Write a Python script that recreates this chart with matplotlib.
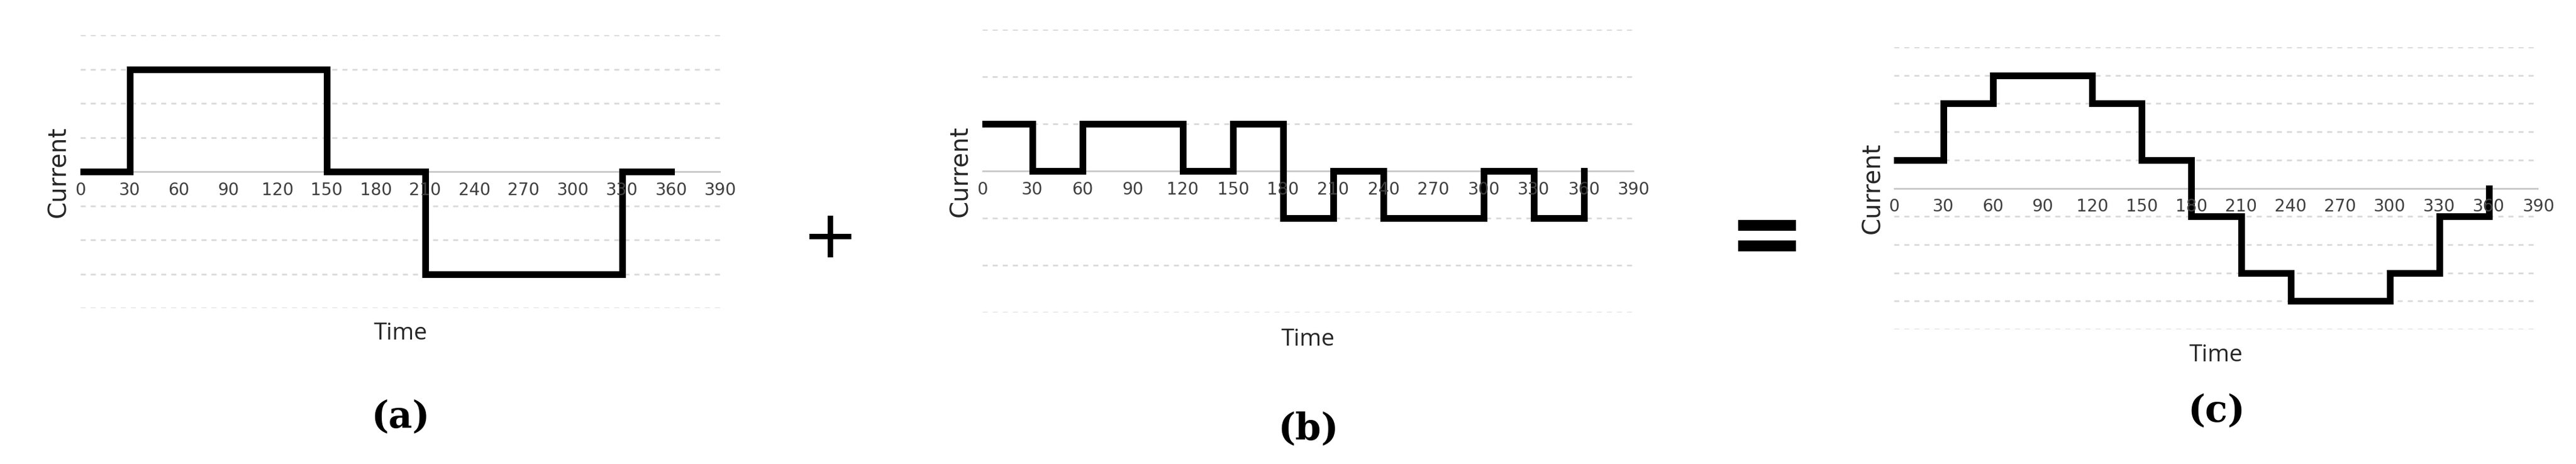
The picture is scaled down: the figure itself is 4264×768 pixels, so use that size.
import matplotlib
matplotlib.use('Agg')
import matplotlib.pyplot as plt

W, H = 4264, 768

# step boundaries (time) and level in each step
edges = [0, 30, 60, 90, 120, 150, 180, 210, 240, 270, 300, 330, 360]
levels_a = [0, 3, 3, 3, 3, 0, 0, -3, -3, -3, -3, 0]
levels_b = [1, 0, 1, 1, 0, 1, -1, 0, -1, -1, 0, -1]
levels_c = [1, 3, 4, 4, 3, 1, -1, -3, -4, -4, -3, -1]
tick_values = list(range(0, 391, 30))
panel_labels = ['(a)', '(b)', '(c)']

# pixel boxes: left, right, top, bottom ; y-range ; label positions
panels = [
    dict(box=(133, 1193, 58, 510), ylim=4, levels=levels_a, end=0, ylab_x=97, time_y=552, lab_y=690),
    dict(box=(1626, 2705, 49, 517), ylim=3, levels=levels_b, end=0, ylab_x=1590, time_y=562, lab_y=710),
    dict(box=(3135, 4202, 78, 545), ylim=5, levels=levels_c, end=0, ylab_x=3100, time_y=588, lab_y=680),
]

tick_font = ['Liberation Sans Narrow', 'DejaVu Sans']

fig = plt.figure(figsize=(W / 100, H / 100), dpi=100)
for p, lab in zip(panels, panel_labels):
    l, r, t, b = p['box']
    ax = fig.add_axes([l / W, 1 - b / H, (r - l) / W, (b - t) / H])
    n = p['ylim']
    for yv in range(-n, n + 1):
        if yv != 0:
            ax.axhline(yv, color='#d9d9d9', lw=2, ls=(0, (3, 3)), zorder=0)
    ax.axhline(0, color='#c8c8c8', lw=2, zorder=0)
    lv = p['levels']
    ax.step(edges, lv + [lv[-1]], where='post', color='black', lw=8,
            solid_joinstyle='miter', zorder=3)
    ax.plot([360, 360], [lv[-1], p['end']], color='black', lw=8, zorder=3)
    ax.set_xlim(0, 390)
    ax.set_ylim(-n, n)
    ax.set_xticks([])
    ax.set_yticks([])
    for s in ax.spines.values():
        s.set_visible(False)
    for tv in tick_values:
        ax.annotate(str(tv), (tv, 0), xytext=(0, -12), textcoords='offset points',
                    ha='center', va='top', fontsize=20, color='#404040', family=tick_font,
                    zorder=4)
    fig.text(p['ylab_x'] / W, 1 - (t + b) / 2 / H, 'Current', rotation=90, ha='center', va='center',
             fontsize=29, color='#262626', family=['DejaVu Sans'])
    fig.text((l + r) / 2 / W, 1 - p['time_y'] / H, 'Time', ha='center', va='center',
             fontsize=28, color='#262626', family=['Open Sans', 'DejaVu Sans'])
    fig.text((l + r) / 2 / W, 1 - p['lab_y'] / H, lab, ha='center', va='center',
             fontsize=44, color='black', family=['DejaVu Serif'], fontweight='bold')

fig.text(1374 / W, 1 - 395 / H, '+', ha='center', va='center', fontsize=80, color='black')
fig.text(2925 / W, 1 - 395 / H, '=', ha='center', va='center', fontsize=110, color='black',
         fontweight='bold')

fig.savefig('out.png', dpi=100, facecolor='white')
